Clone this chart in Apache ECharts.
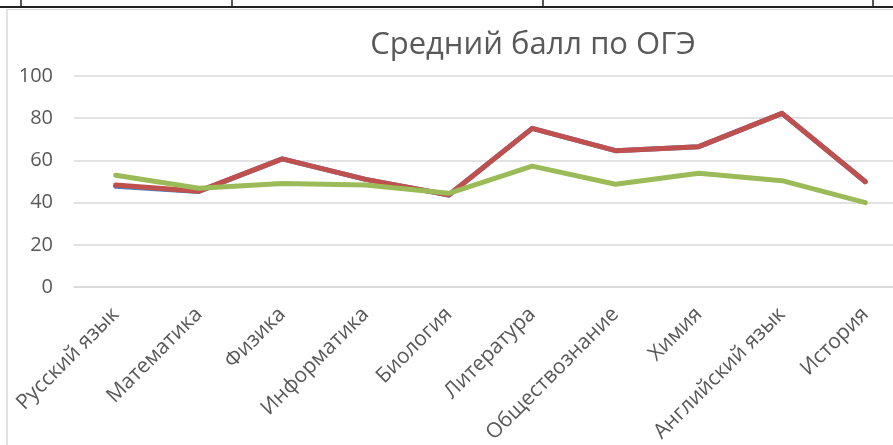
<!DOCTYPE html>
<html>
<head>
<meta charset="utf-8">
<script src="https://cdn.jsdelivr.net/npm/echarts@6/dist/echarts.min.js"></script>
<style>
  html, body { margin: 0; padding: 0; background: #fff; overflow: hidden; }
  /* область построения в оригинале уходит за правый край, поэтому холст шире окна */
  #chart { width: 920px; height: 445px; }
</style>
</head>
<body>
<div id="chart"></div>
<script>
// предметы
const subjects = ['Русский язык', 'Математика', 'Физика', 'Информатика', 'Биология',
  'Литература', 'Обществознание', 'Химия', 'Английский язык', 'История']
// ряды значений
const seriesBlue = [47.8, 45.3, 60.7, 51.0, 43.6, 75.2, 64.6, 66.5, 82.3, 49.9]
const seriesRed = [48.3, 45.4, 60.7, 51.0, 43.6, 75.2, 64.6, 66.5, 82.3, 49.9]
const seriesGreen = [53.0, 46.8, 49.1, 48.3, 44.4, 57.3, 48.7, 53.9, 50.4, 40.0]
const yTicks = [0, 20, 40, 60, 80, 100]

const font = '"Open Sans", "Noto Sans", sans-serif'
const textColor = '#595959'
const gridColor = '#d9d9d9'

let chart = echarts.init(document.getElementById('chart'))

function lineSeries (name, color, data) {
  return {
    name: name,
    type: 'line',
    data: data,
    showSymbol: false,
    symbol: 'none',
    lineStyle: { color: color, width: 5, cap: 'round', join: 'round' },
    itemStyle: { color: color },
    animation: false
  }
}

chart.setOption({
  backgroundColor: '#fff',
  title: {
    text: 'Средний балл по ОГЭ',
    left: 528,
    textAlign: 'center',
    top: 25,
    textStyle: { fontFamily: font, fontSize: 31, fontWeight: 'normal', color: textColor }
  },
  grid: { left: 74, top: 76, width: 833, height: 211, containLabel: false, outerBoundsMode: 'none' },
  xAxis: {
    type: 'category',
    data: subjects,
    boundaryGap: true,
    axisLine: { lineStyle: { color: gridColor, width: 1.5 } },
    axisTick: { alignWithLabel: true, length: 5, lineStyle: { color: gridColor, width: 1.5 } },
    axisLabel: {
      interval: 0,
      rotate: 45,
      margin: 24,
      fontFamily: font,
      fontSize: 21,
      color: textColor
    }
  },
  yAxis: {
    type: 'value',
    min: yTicks[0],
    max: yTicks[yTicks.length - 1],
    interval: yTicks[1] - yTicks[0],
    axisLine: { show: false },
    axisTick: { show: false },
    axisLabel: { fontFamily: font, fontSize: 20, color: textColor, margin: 21 },
    splitLine: { lineStyle: { color: gridColor, width: 1.5 } }
  },
  series: [
    lineSeries('Ряд 1', '#4F81BD', seriesBlue),
    lineSeries('Ряд 2', '#C0504D', seriesRed),
    lineSeries('Ряд 3', '#9BBB59', seriesGreen)
  ],
  graphic: [
    // рамка таблицы над диаграммой
    { type: 'line', shape: { x1: 0, y1: 7, x2: 920, y2: 7 }, style: { stroke: '#222', lineWidth: 2 } },
    { type: 'line', shape: { x1: 21, y1: 0, x2: 21, y2: 7 }, style: { stroke: '#222', lineWidth: 1.5 } },
    { type: 'line', shape: { x1: 232, y1: 0, x2: 232, y2: 7 }, style: { stroke: '#222', lineWidth: 1.5 } },
    { type: 'line', shape: { x1: 543, y1: 0, x2: 543, y2: 7 }, style: { stroke: '#222', lineWidth: 1.5 } },
    { type: 'line', shape: { x1: 873, y1: 0, x2: 873, y2: 7 }, style: { stroke: '#222', lineWidth: 1.5 } },
    // рамка диаграммы
    { type: 'line', shape: { x1: 7, y1: 9.5, x2: 920, y2: 9.5 }, style: { stroke: gridColor, lineWidth: 1 } },
    { type: 'line', shape: { x1: 7, y1: 9.5, x2: 7, y2: 445 }, style: { stroke: gridColor, lineWidth: 1.5 } }
  ]
})
</script>
</body>
</html>
